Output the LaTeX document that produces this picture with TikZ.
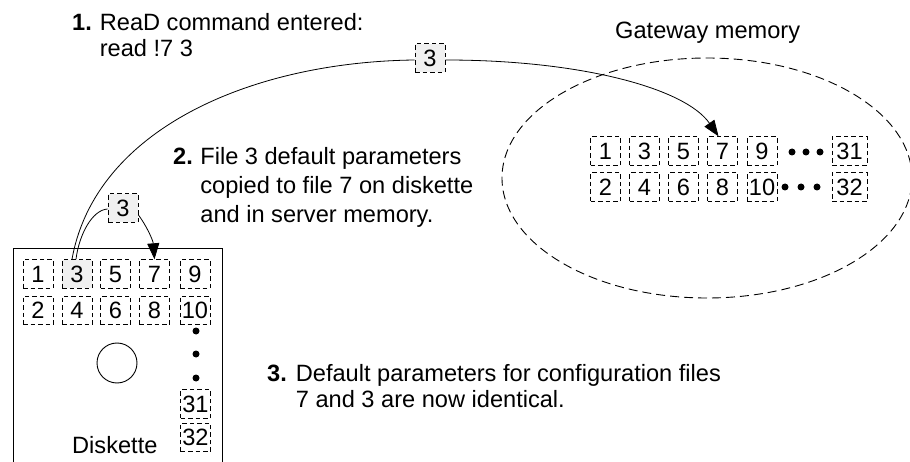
\documentclass[tikz,border=0pt]{standalone}
\usepackage{fontspec}
\setmainfont{Liberation Sans}
\usetikzlibrary{arrows.meta,shapes.geometric}
\begin{document}
\begin{tikzpicture}[x=1pt,y=-1pt,
  fbox/.style={draw, dash pattern=on 4.5pt off 3pt, line width=0.9pt, minimum width=30pt, minimum height=28.5pt, inner sep=0pt, font=\fontsize{23.6}{26}\selectfont},
  gbox/.style={fbox, fill=black!6},
  wbox/.style={fbox, minimum width=35pt},
  dot/.style={circle, fill=black, inner sep=0pt, minimum size=7pt},
  lbl/.style={anchor=base west, inner sep=0pt, font=\fontsize{23.6}{26}\selectfont},
  link/.style={line width=0.8pt},
  arr/.style={link, -{Triangle[length=16pt,width=12pt]}}
]
\useasboundingbox (0,0) rectangle (910,462);
\clip (0,0) rectangle (910,462);
% diskette
\draw[line width=1pt] (13,470) -- (13,249) -- (222,249) -- (222,470);
\node[fbox] (d1) at (38,274) {1};
\node[gbox] (d3) at (77,274) {3};
\node[fbox] (d5) at (115.5,274) {5};
\node[fbox] (d7) at (154.5,274) {7};
\node[fbox] (d9) at (195,274) {9};
\node[fbox] (d2) at (38,310.5) {2};
\node[fbox] (d4) at (77,310.5) {4};
\node[fbox] (d6) at (115.5,310.5) {6};
\node[fbox] (d8) at (154.5,310.5) {8};
\node[fbox] (d10) at (195,310.5) {10};
\node[dot] (dd1) at (196,331) {};
\node[dot] (dd2) at (196,354) {};
\node[dot] (dd3) at (196,378) {};
\node[fbox] (d31) at (195.5,404) {31};
\node[fbox] (d32) at (195.5,437.5) {32};
\node[circle, draw, line width=0.9pt, minimum size=40pt, inner sep=0pt] (hole) at (117,363) {};
\node[lbl] (dlab) at (72,453) {Diskette};
% moving boxes
\node[gbox] (s3) at (123,208) {3};
\node[gbox] (t3) at (430,58) {3};
% gateway memory
\node[ellipse, draw, dash pattern=on 9pt off 5pt, line width=0.9pt, minimum width=410pt, minimum height=240pt, inner sep=0pt] (gw) at (707,178) {};
\node[lbl] (gwlab) at (615,39) {Gateway memory};
\node[fbox] (e1) at (605.5,151) {1};
\node[fbox] (e3) at (644.5,151) {3};
\node[fbox] (e5) at (683.5,151) {5};
\node[fbox] (e7) at (722.5,151) {7};
\node[fbox] (e9) at (762,151) {9};
\node[wbox] (e31) at (849.5,151) {31};
\node[fbox] (e2) at (605.5,187) {2};
\node[fbox] (e4) at (644.5,187) {4};
\node[fbox] (e6) at (683.5,187) {6};
\node[fbox] (e8) at (722.5,187) {8};
\node[fbox] (e10) at (762,187) {10};
\node[wbox] (e32) at (849.5,187) {32};
\node[dot] (ea1) at (792,152) {};
\node[dot] (ea2) at (806,152) {};
\node[dot] (ea3) at (820,152) {};
\node[dot] (eb1) at (785,187) {};
\node[dot] (eb2) at (801,187) {};
\node[dot] (eb3) at (817,187) {};
% texts
\node[lbl] (txt1) at (72,31) {\begin{tabular}[t]{@{}l@{\hspace{8pt}}l@{}}\textbf{1.} & ReaD command entered:\\ & read !7 3\end{tabular}};
\node[lbl, font=\fontsize{23.6}{29}\selectfont] (txt2) at (173,165) {\begin{tabular}[t]{@{}l@{\hspace{7.5pt}}l@{}}\textbf{2.} & File 3 default parameters\\ & copied to file 7 on diskette\\ & and in server memory.\end{tabular}};
\node[lbl] (txt3) at (267,381) {\begin{tabular}[t]{@{}l@{\hspace{9pt}}l@{}}\textbf{3.} & Default parameters for configuration files\\ & 7 and 3 are now identical.\end{tabular}};
% connectors
\draw[link] ([xshift=-5pt]d3.north) .. controls (95,130) and (250,62) .. ([yshift=-2pt]t3.west);
\draw[arr] ([yshift=-2pt]t3.east) .. controls (580,60) and (685,88) .. ([xshift=-4pt]e7.north);
\draw[link] ([xshift=-1pt]d3.north) .. controls (79,235) and (92,210) .. ([yshift=-1pt]s3.west);
\draw[arr] ([yshift=-7pt]s3.east) .. controls (146,225) and (153,240) .. (d7.north);
\end{tikzpicture}
\end{document}
